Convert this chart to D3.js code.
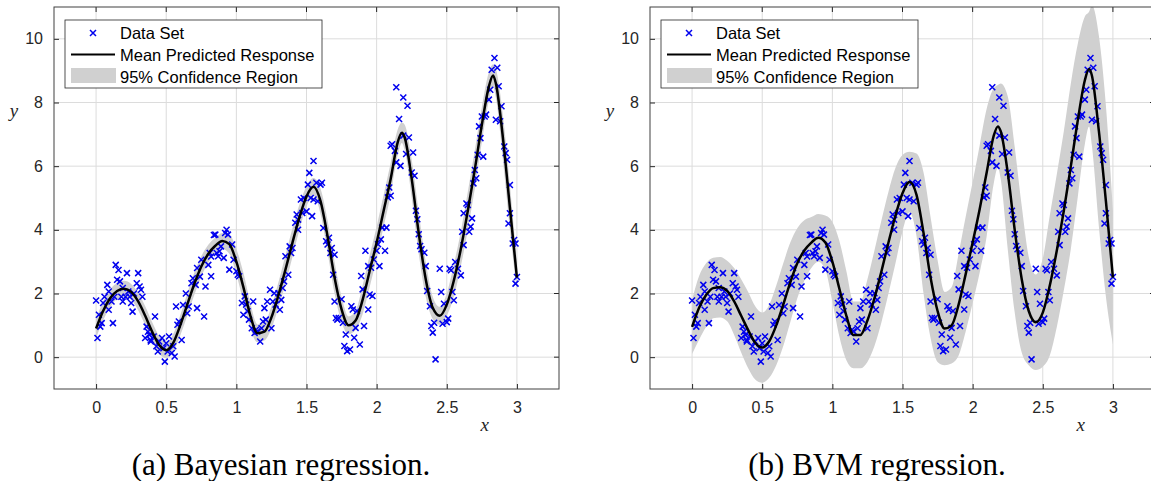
<!DOCTYPE html>
<html>
<head>
<meta charset="utf-8">
<script src="https://cdn.jsdelivr.net/npm/d3@7"></script>
<style>
  body { margin: 0; background: #fff; }
  svg { display: block; }
</style>
</head>
<body>
<svg id="chart" width="1151" height="481"></svg>
<script>
// ticks
const xTicks = [0, 0.5, 1, 1.5, 2, 2.5, 3];
const yTicks = [0, 2, 4, 6, 8, 10];

// data set (same noisy samples in both panels)
const dataX = [0,0.01,0.02,0.03,0.04,0.05,0.06,0.08,0.09,0.09,0.11,0.12,0.13,0.14,0.15,0.16,0.17,0.18,0.19,0.19,0.21,0.22,0.23,0.24,0.25,0.26,0.27,0.29,0.30,0.31,0.32,0.33,0.35,0.36,0.37,0.38,0.39,0.39,0.41,0.42,0.43,0.44,0.45,0.47,0.48,0.49,0.50,0.51,0.52,0.54,0.55,0.56,0.57,0.58,0.59,0.61,0.62,0.64,0.65,0.66,0.68,0.69,0.71,0.72,0.72,0.74,0.75,0.77,0.78,0.80,0.82,0.84,
  0.81,0.82,0.85,0.86,0.87,0.88,0.89,0.91,0.92,0.93,0.94,0.95,0.97,0.98,1.00,1.01,1.02,1.04,1.05,1.06,1.07,1.08,1.09,1.11,1.12,1.13,1.14,1.15,1.17,1.18,1.19,1.20,1.21,1.22,1.24,1.25,1.26,1.27,1.28,1.30,1.31,1.32,1.33,1.34,1.35,1.37,1.38,1.39,1.40,1.42,1.43,1.44,1.44,1.46,1.47,1.48,1.50,1.51,1.52,1.53,1.54,1.55,1.55,1.57,1.58,1.60,1.61,1.62,1.64,1.65,1.66,1.67,1.68,1.69,1.70,1.70,1.71,1.72,1.73,
  1.75,1.76,1.77,1.78,1.79,1.81,1.82,1.83,1.84,1.85,1.86,1.88,1.89,1.90,1.91,1.92,1.94,1.94,1.95,1.96,1.97,1.98,2.00,2.01,2.02,2.03,2.04,2.06,2.07,2.08,2.09,2.10,2.10,2.11,2.13,2.14,2.14,2.16,2.17,2.19,2.19,2.21,2.22,2.23,2.25,2.26,2.27,2.28,2.29,2.30,2.31,2.32,2.34,2.35,2.36,2.38,2.39,2.40,2.41,2.42,
  2.45,2.46,2.47,2.48,2.50,2.51,2.52,2.53,2.54,2.55,2.56,2.58,2.60,2.61,2.62,2.62,2.64,2.65,2.66,2.67,2.68,2.69,2.70,2.71,2.72,2.73,2.74,2.75,2.76,2.77,2.78,2.80,2.81,2.82,2.84,2.85,2.86,2.87,2.88,2.89,2.91,2.92,2.93,2.94,2.95,2.95,2.97,2.98,2.99,2.99,3.00];
const dataY = [1.78,0.60,1.33,0.96,1.07,1.70,1.90,2.27,2.06,1.49,1.75,1.07,1.90,2.90,2.43,2.74,2.38,1.90,1.75,2.17,1.90,2.64,2.06,1.90,1.70,1.43,2.00,2.32,2.64,2.22,2.12,1.90,0.60,0.96,0.80,0.70,0.54,0.49,0.65,1.28,0.34,0.18,0.49,0.60,0.28,-0.14,0.44,0.18,0.65,0.13,0.34,0.02,1.59,1.02,1.12,0.54,1.64,2.00,1.38,1.59,2.32,2.48,2.27,1.54,2.80,2.53,3.06,1.28,2.22,2.90,3.16,3.84,
  3.27,2.54,3.85,3.27,3.17,3.33,3.48,3.12,3.90,4.00,3.85,2.75,3.54,3.06,2.70,2.59,2.54,1.70,1.33,1.91,1.65,1.44,1.18,0.91,1.75,0.76,0.86,0.81,0.49,0.91,1.12,1.54,1.18,1.75,2.12,0.91,1.75,2.01,1.65,2.01,1.49,1.80,2.17,2.38,3.17,2.59,3.48,3.27,3.43,4.22,4.48,4.00,4.32,4.95,4.53,5.00,4.58,5.42,5.79,5.00,4.43,6.16,4.95,5.48,4.90,5.42,5.48,4.06,3.64,3.54,3.75,3.27,3.43,2.59,3.22,1.75,1.23,1.18,1.23,
  1.82,1.08,0.35,0.71,0.19,0.24,1.60,1.50,0.61,0.92,1.45,0.40,2.55,2.13,0.98,3.34,2.86,1.50,1.97,2.81,1.92,3.07,3.34,3.55,2.86,3.70,4.07,3.34,4.07,5.02,5.33,5.07,6.64,6.69,6.48,6.12,8.48,7.48,6.01,6.96,8.16,6.38,7.90,6.90,5.80,6.43,5.70,4.60,4.33,3.86,3.49,3.39,3.28,2.86,2.08,1.60,0.98,0.77,1.08,-0.07,
  2.78,2.05,1.05,1.68,1.10,1.21,2.78,2.73,2.05,1.79,2.99,2.78,2.57,3.94,4.52,3.52,4.83,4.78,3.94,4.10,4.36,5.46,5.88,5.62,6.36,7.25,6.88,7.56,6.30,7.56,7.62,8.09,8.40,9.03,9.40,7.46,9.09,8.51,7.41,7.88,6.62,6.41,6.20,4.20,5.41,4.52,3.57,3.68,3.57,2.31,2.52];

// prediction grid
const meanX = [0,0.05,0.1,0.15,0.2,0.25,0.3,0.35,0.4,0.45,0.5,0.55,0.6,0.65,0.7,0.75,0.8,0.85,0.9,0.95,1,1.05,1.1,1.15,1.2,1.25,1.3,1.35,1.4,1.45,1.5,1.55,1.6,1.65,1.7,1.75,1.8,1.85,1.9,1.95,2,2.05,2.1,2.15,2.18,2.2,2.25,2.3,2.35,2.4,2.45,2.5,2.55,2.6,2.65,2.7,2.75,2.8,2.83,2.85,2.9,2.95,3];

// (a) Bayesian regression: mean and half width of 95% region
const meanA = [0.9,1.45,1.85,2.08,2.15,2.05,1.75,1.3,0.8,0.38,0.22,0.45,1.0,1.65,2.3,2.85,3.25,3.5,3.65,3.55,3.0,2.2,1.3,0.75,0.8,1.25,1.95,2.75,3.6,4.4,5.05,5.35,4.9,3.8,2.5,1.5,1.0,1.15,1.8,2.7,3.6,4.6,5.6,6.75,7.05,6.9,5.6,3.9,2.45,1.55,1.3,1.65,2.4,3.4,4.6,5.9,7.3,8.5,8.85,8.6,6.9,4.7,2.5];
const halfA = [0.3,0.3,0.28,0.25,0.25,0.25,0.28,0.3,0.3,0.28,0.25,0.28,0.32,0.35,0.35,0.32,0.28,0.25,0.25,0.3,0.4,0.45,0.4,0.28,0.28,0.35,0.4,0.45,0.45,0.4,0.32,0.28,0.4,0.5,0.5,0.4,0.28,0.3,0.45,0.5,0.5,0.5,0.5,0.4,0.32,0.4,0.6,0.65,0.55,0.35,0.28,0.35,0.5,0.55,0.6,0.6,0.55,0.45,0.35,0.45,0.7,0.7,0.45];

// (b) BVM regression: mean and half width of 95% region
const meanB = [0.95,1.55,1.95,2.17,2.2,2.08,1.75,1.3,0.85,0.45,0.3,0.5,1.0,1.65,2.35,2.95,3.35,3.6,3.75,3.6,3.0,2.15,1.3,0.7,0.7,1.15,1.85,2.7,3.6,4.45,5.15,5.5,5.1,3.9,2.5,1.45,0.9,1.0,1.65,2.6,3.6,4.65,5.8,6.95,7.25,7.1,5.8,4.0,2.45,1.45,1.1,1.4,2.25,3.35,4.6,6.0,7.45,8.7,9.05,8.85,7.1,4.9,2.5];
const halfB = [0.85,1.0,1.0,0.95,0.95,0.95,1.05,1.15,1.2,1.15,1.1,1.15,1.25,1.3,1.25,1.1,0.95,0.8,0.75,0.85,1.25,1.5,1.4,1.05,1.05,1.3,1.5,1.6,1.6,1.5,1.2,0.95,1.3,1.9,1.9,1.6,1.15,1.2,1.6,1.8,1.9,2.0,2.0,1.5,1.3,1.5,2.4,2.6,2.3,1.7,1.5,1.7,2.2,2.4,2.5,2.6,2.4,2.0,1.8,2.2,3.0,3.0,2.1];

const legendLabels = ["Data Set", "Mean Predicted Response", "95% Confidence Region"];

const svg = d3.select("#chart");
const axisColor = "#262626";
const sans = "'Liberation Sans', Arial, Helvetica, sans-serif";
const serif = "'Liberation Serif', 'Times New Roman', serif";

function drawPanel(left, mean, half, caption, captionX) {
  const x = d3.scaleLinear().domain([-0.3, 3.3]).range([left, left + 505]);
  const y = d3.scaleLinear().domain([-1, 11]).range([389, 7]);
  const g = svg.append("g");
  const x0 = x.range()[0], x1 = x.range()[1];
  const y0 = y.range()[0], y1 = y.range()[1];

  // clip for the plot area
  const id = "clip" + left;
  g.append("clipPath").attr("id", id)
    .append("rect").attr("x", x0).attr("y", y1).attr("width", x1 - x0).attr("height", y0 - y1);

  // grid
  g.append("g").selectAll("line").data(xTicks).join("line")
    .attr("x1", d => x(d)).attr("x2", d => x(d)).attr("y1", y1).attr("y2", y0)
    .style("stroke", "#dcdcdc").style("stroke-width", 1);
  g.append("g").selectAll("line").data(yTicks).join("line")
    .attr("x1", x0).attr("x2", x1).attr("y1", d => y(d)).attr("y2", d => y(d))
    .style("stroke", "#dcdcdc").style("stroke-width", 1);

  const plot = g.append("g").attr("clip-path", "url(#" + id + ")");

  // confidence region
  const area = d3.area()
    .x((d, i) => x(meanX[i]))
    .y0((d, i) => y(mean[i] - half[i]))
    .y1((d, i) => y(mean[i] + half[i]))
    .curve(d3.curveMonotoneX);
  plot.append("path").datum(mean).attr("d", area).style("fill", "#d0d0d0");

  // data points
  plot.append("g").selectAll("path").data(dataX).join("path")
    .attr("transform", (d, i) => "translate(" + x(d) + "," + y(dataY[i]) + ")")
    .attr("d", "M-3,-3L3,3M-3,3L3,-3")
    .style("stroke", "#0000ee").style("stroke-width", 1.5).style("fill", "none");

  // mean line
  const line = d3.line().x((d, i) => x(meanX[i])).y(d => y(d)).curve(d3.curveMonotoneX);
  plot.append("path").datum(mean).attr("d", line)
    .style("fill", "none").style("stroke", "#000").style("stroke-width", 2.5);

  // axes (inward ticks)
  const xa = g.append("g").attr("transform", "translate(0," + y0 + ")")
    .call(d3.axisBottom(x).tickValues(xTicks).tickSize(-5).tickPadding(13).tickFormat(d => String(d)));
  const ya = g.append("g").attr("transform", "translate(" + x0 + ",0)")
    .call(d3.axisLeft(y).tickValues(yTicks).tickSize(-5).tickPadding(11).tickFormat(d => String(d)));
  [xa, ya].forEach(a => {
    a.select(".domain").remove();
    a.selectAll("line").style("stroke", axisColor);
    a.selectAll("text").style("font-family", sans).style("font-size", "16px").style("fill", axisColor);
  });
  // top and right ticks
  g.append("g").selectAll("line").data(xTicks).join("line")
    .attr("x1", d => x(d)).attr("x2", d => x(d)).attr("y1", y1).attr("y2", y1 + 5)
    .style("stroke", axisColor);
  g.append("g").selectAll("line").data(yTicks).join("line")
    .attr("x1", x1).attr("x2", x1 - 5).attr("y1", d => y(d)).attr("y2", d => y(d))
    .style("stroke", axisColor);

  // box
  g.append("rect").attr("x", x0).attr("y", y1).attr("width", x1 - x0).attr("height", y0 - y1)
    .style("fill", "none").style("stroke", "#404040").style("stroke-width", 1);

  // axis labels
  g.append("text").attr("x", x(2.77)).attr("y", 431).attr("text-anchor", "middle")
    .style("font-family", serif).style("font-style", "italic").style("font-size", "19px")
    .style("fill", axisColor).text("x");
  g.append("text").attr("x", x0 - 40).attr("y", 117).attr("text-anchor", "middle")
    .style("font-family", serif).style("font-style", "italic").style("font-size", "19px")
    .style("fill", axisColor).text("y");

  // legend
  const lg = g.append("g").attr("transform", "translate(" + (x0 + 11) + ",20)");
  lg.append("rect").attr("width", 257).attr("height", 68)
    .style("fill", "#fff").style("stroke", axisColor).style("stroke-width", 0.8);
  lg.append("path").attr("transform", "translate(28,13)").attr("d", "M-3,-3L3,3M-3,3L3,-3")
    .style("stroke", "#0000ee").style("stroke-width", 1.5);
  lg.append("line").attr("x1", 6).attr("x2", 50).attr("y1", 34.5).attr("y2", 34.5)
    .style("stroke", "#000").style("stroke-width", 2);
  lg.append("rect").attr("x", 6).attr("y", 48).attr("width", 45).attr("height", 15)
    .style("fill", "#d0d0d0");
  lg.selectAll("text.leg").data(legendLabels).join("text").attr("class", "leg")
    .attr("x", 55).attr("y", (d, i) => 19 + i * 22)
    .style("font-family", sans).style("font-size", "16.5px").style("fill", "#000")
    .text(d => d);

  // caption
  svg.append("text").attr("x", captionX).attr("y", 475).attr("text-anchor", "middle")
    .style("font-family", serif).style("font-size", "31px").style("fill", "#000")
    .text(caption);
}

drawPanel(54, meanA, halfA, "(a) Bayesian regression.", 281);
drawPanel(650, meanB, halfB, "(b) BVM regression.", 877);
</script>
</body>
</html>
